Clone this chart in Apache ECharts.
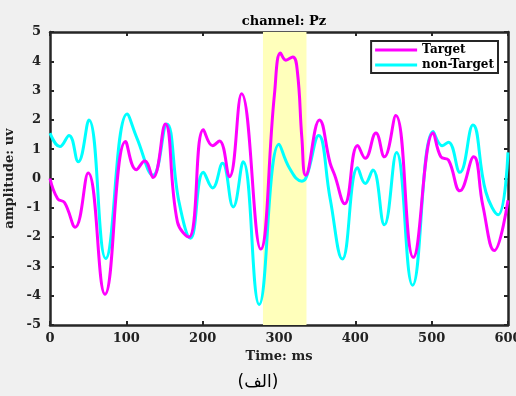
<!DOCTYPE html>
<html>
<head>
<meta charset="utf-8">
<script src="https://cdn.jsdelivr.net/npm/echarts@6/dist/echarts.min.js"></script>
<style>
  html, body { margin: 0; padding: 0; background: #f0f0f0; }
  #chart { width: 516px; height: 396px; }
</style>
</head>
<body>
<div id="chart"></div>
<script>
// Pz channel: Target vs non-Target averaged response
var targetT = [0, 10, 19, 33, 50, 72, 99, 113, 124, 135, 151, 167, 182, 201, 213, 222, 235, 251, 276, 294, 302, 309, 318, 324, 330, 335, 353, 367, 373, 386, 403, 413, 427, 438, 453, 476, 502, 512, 522, 537, 555, 567, 582, 600];
var targetV = [0, -0.69, -0.82, -1.66, 0.19, -3.95, 1.26, 0.3, 0.6, 0.03, 1.86, -1.49, -2.0, 1.66, 1.12, 1.28, 0.06, 2.89, -2.41, 2.86, 4.28, 4.04, 4.15, 3.67, 1.37, 0.11, 2.0, 0.52, 0.11, -0.86, 1.13, 0.69, 1.55, 0.74, 2.15, -2.69, 1.55, 0.74, 0.63, -0.42, 0.74, -0.92, -2.46, -0.74];

var nonTargetT = [0, 13, 25, 37, 51, 73, 101, 114, 135, 153, 169, 184, 201, 213, 226, 240, 253, 274, 300, 314, 330, 336, 352, 367, 383, 403, 413, 423, 438, 454, 475, 502, 514, 522, 537, 554, 571, 587, 600];
var nonTargetV = [1.55, 1.09, 1.47, 0.57, 2.0, -2.73, 2.2, 1.37, 0.11, 1.86, -0.8, -2.04, 0.21, -0.32, 0.52, -0.97, 0.57, -4.3, 1.17, 0.34, -0.09, 0.06, 1.47, -0.69, -2.75, 0.37, -0.17, 0.29, -1.58, 0.89, -3.64, 1.6, 1.12, 1.24, 0.21, 1.83, -0.46, -1.24, 0.89];

var highlight = [279, 336];   // shaded window, ms
var xTicks = [0, 600, 100];   // min, max, step
var yTicks = [-5, 5, 1];

function zip(a, b) {
  return a.map(function(t, i) { return [t, b[i]]; });
}

var ink = '#262626';
var serif = 'DejaVu Serif, serif';
var txt = { fontFamily: serif, fontWeight: 'bold', fontSize: 13, color: '#222' };

var chart = echarts.init(document.getElementById('chart'), null, { renderer: 'canvas' });

var axisBase = {
  type: 'value',
  axisLine: { show: true, onZero: false, lineStyle: { color: ink, width: 2.5 } },
  axisTick: { show: true, inside: true, length: 4, lineStyle: { color: ink, width: 2 } },
  splitLine: { show: false }
};

chart.setOption({
  animation: false,
  backgroundColor: '#f0f0f0',
  title: {
    text: 'channel: Pz',
    left: 279, top: 10, textAlign: 'center',
    textStyle: Object.assign({}, txt, { color: '#000' })
  },
  legend: {
    right: 18, top: 41,
    orient: 'vertical',
    itemWidth: 42, itemHeight: 3, itemGap: 3,
    padding: [3, 4, 2, 4],
    backgroundColor: '#fff',
    borderColor: ink, borderWidth: 2,
    textStyle: Object.assign({}, txt, { fontSize: 12, color: '#000' }),
    data: [
      { name: 'Target', icon: 'rect', itemStyle: { color: '#ff00ff' } },
      { name: 'non-Target', icon: 'rect', itemStyle: { color: '#00ffff' } }
    ]
  },
  grid: {
    left: 50, right: 8, top: 32, bottom: 71,
    outerBoundsMode: 'none', containLabel: false,
    show: true, backgroundColor: '#fff', borderWidth: 0
  },
  xAxis: [
    Object.assign({}, axisBase, {
      min: xTicks[0], max: xTicks[1], interval: xTicks[2],
      name: 'Time: ms', nameLocation: 'middle', nameGap: 24,
      nameTextStyle: txt,
      axisLabel: Object.assign({ margin: 7 }, txt)
    }),
    Object.assign({}, axisBase, {
      position: 'top', min: xTicks[0], max: xTicks[1], interval: xTicks[2],
      axisLabel: { show: false }
    })
  ],
  yAxis: [
    Object.assign({}, axisBase, {
      min: yTicks[0], max: yTicks[1], interval: yTicks[2],
      name: 'amplitude: uv', nameLocation: 'middle', nameGap: 28,
      nameTextStyle: txt,
      axisLabel: Object.assign({ margin: 9 }, txt)
    }),
    Object.assign({}, axisBase, {
      position: 'right', min: yTicks[0], max: yTicks[1], interval: yTicks[2],
      axisLabel: { show: false }
    })
  ],
  graphic: [{
    type: 'text', left: 'center', top: 374,
    style: { text: '(الف)', font: '17px DejaVu Sans', fill: '#000' }
  }],
  series: [
    {
      name: 'Target', type: 'line', smooth: 0.45, symbol: 'none',
      data: zip(targetT, targetV),
      lineStyle: { color: '#ff00ff', width: 3 },
      itemStyle: { color: '#ff00ff' },
      z: 3,
      markArea: {
        silent: true,
        itemStyle: { color: '#ffffbb' },
        data: [[{ xAxis: highlight[0] }, { xAxis: highlight[1] }]]
      }
    },
    {
      name: 'non-Target', type: 'line', smooth: 0.45, symbol: 'none',
      data: zip(nonTargetT, nonTargetV),
      lineStyle: { color: '#00ffff', width: 3 },
      itemStyle: { color: '#00ffff' },
      z: 2
    }
  ]
});
</script>
</body>
</html>
